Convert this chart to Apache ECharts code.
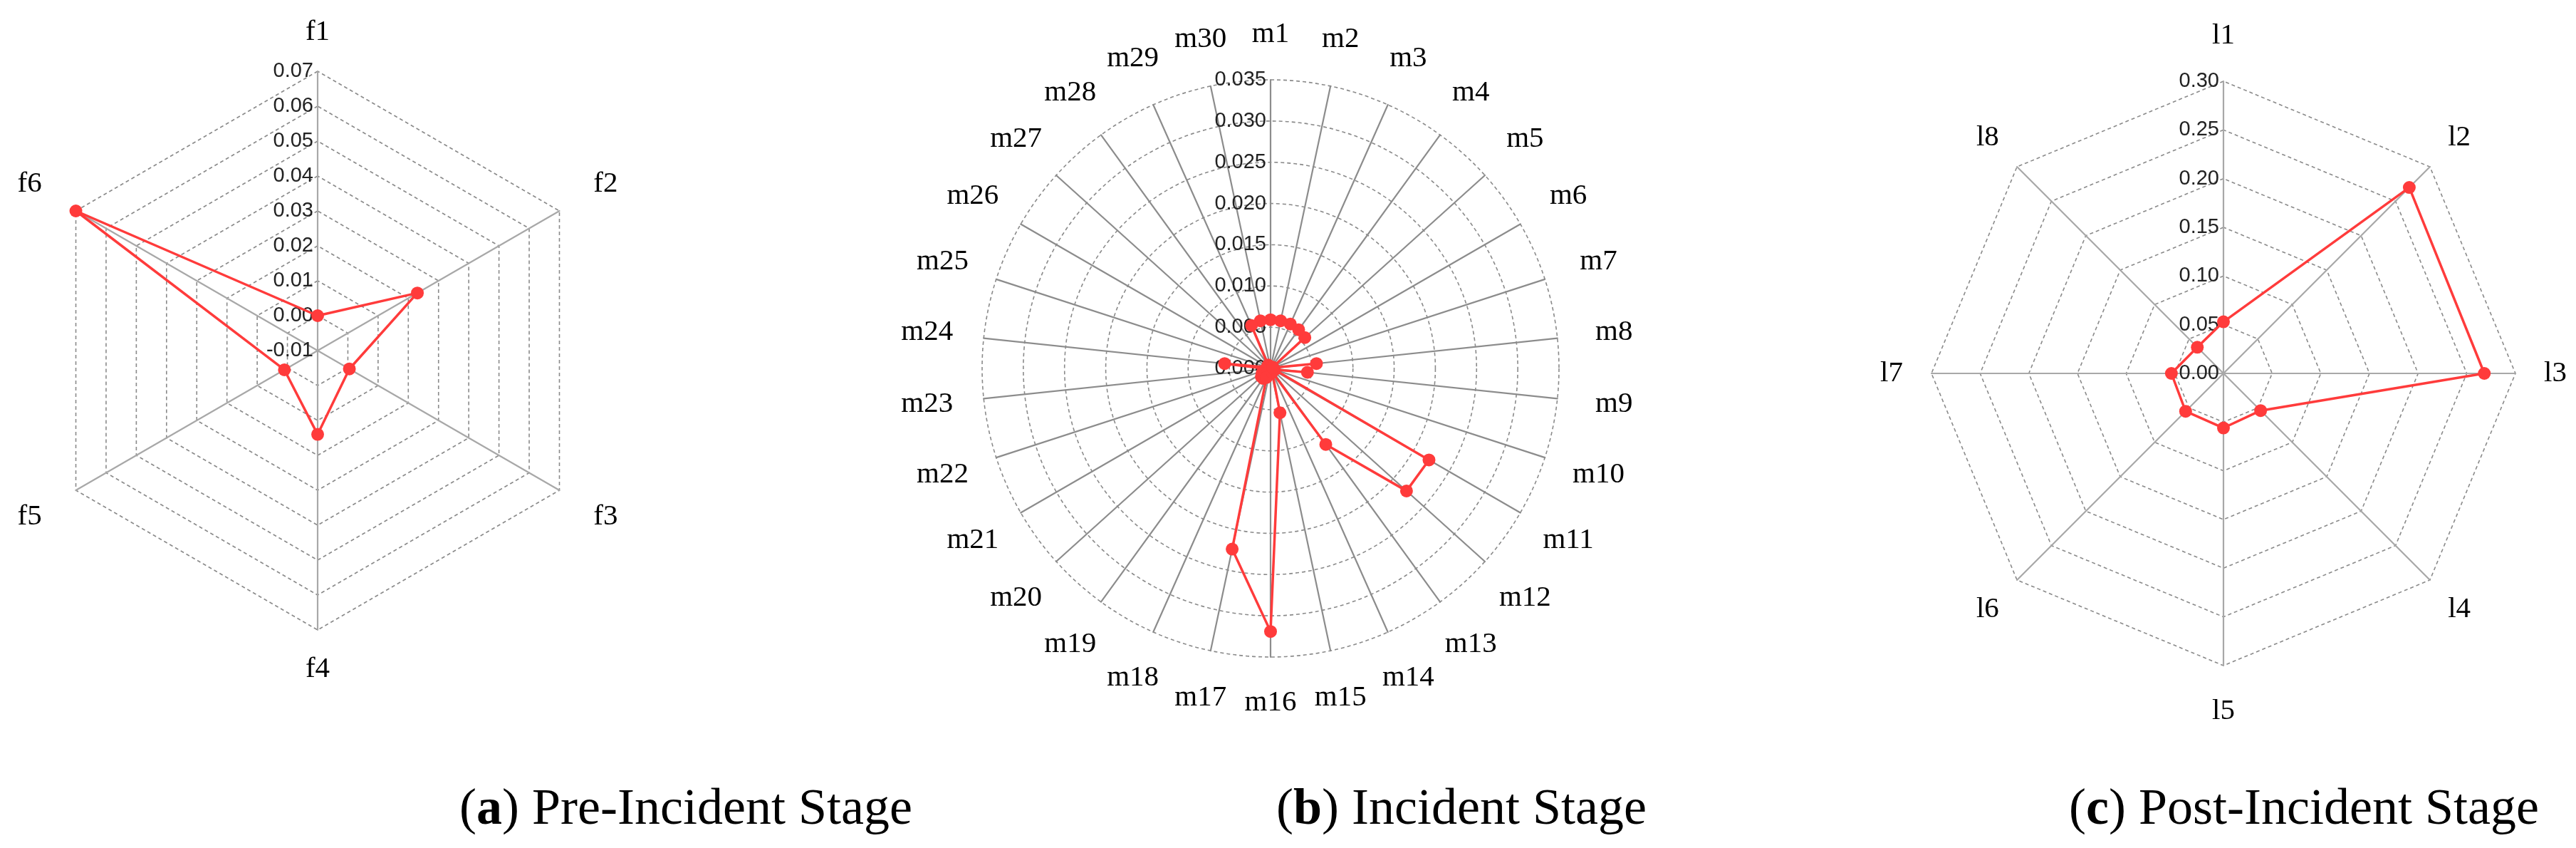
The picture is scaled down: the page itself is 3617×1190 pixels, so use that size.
<!DOCTYPE html>
<html><head><meta charset="utf-8">
<script src="https://cdn.jsdelivr.net/npm/echarts@6/dist/echarts.min.js"></script>
<style>html,body{margin:0;padding:0;background:#fff}#c{width:3617px;height:1190px}</style>
</head><body><div id="c"></div>
<script>
// ---- data ----
const preNames = ['f1','f2','f3','f4','f5','f6'];
const preValues = [0.000, 0.023, 0.0005, 0.014, 0.001, 0.070];
const preRange = [-0.01, 0.07];   // ticks every 0.01
const preSplits = 8;

const incNames = ['m1','m2','m3','m4','m5','m6','m7','m8','m9','m10','m11','m12','m13','m14','m15',
                  'm16','m17','m18','m19','m20','m21','m22','m23','m24','m25','m26','m27','m28','m29','m30'];
const incValues = [0.0059,0.0059,0.0059,0.0058,0.0056,0.0003,0.0003,0.0056,0.0045,0.0005,0.0222,0.0222,0.0114,0.0005,0.0055,
                   0.0319,0.0224,0.0012,0.0015,0.0015,0.0012,0.0008,0.0005,0.0056,0.0004,0.0004,0.0004,0.0005,0.0057,0.0059];
const incRange = [0, 0.035];      // ticks every 0.005
const incSplits = 7;

const postNames = ['l1','l2','l3','l4','l5','l6','l7','l8'];
const postValues = [0.053, 0.270, 0.268, 0.054, 0.056, 0.055, 0.0535, 0.038];
const postRange = [0, 0.30];      // ticks every 0.05
const postSplits = 6;

const captions = [
  {label:'a', text:' Pre-Incident Stage'},
  {label:'b', text:' Incident Stage'},
  {label:'c', text:' Post-Incident Stage'}
];

// ---- helpers ----
const RED = '#ff3b3b';
// ECharts lays radar indicators counter-clockwise; reorder so they run clockwise from the top
function cwOrder(n){ const o=[0]; for(let i=n-1;i>=1;i--) o.push(i); return o; }

function makeRadar(names, range, splits, center, radius, decimals, shape, axisColor, gapV, gapH){
  const n = names.length;
  const order = cwOrder(n);
  return {
    center: center, radius: radius, startAngle: 90, shape: shape,
    splitNumber: splits,
    axisNameGap: gapV,
    axisName: {color:'#000', fontFamily:'"Liberation Serif", "Times New Roman", serif', fontSize: 41,
               align:'center', verticalAlign:'middle'},
    axisLine: {lineStyle:{color: axisColor, width: 2.2}},
    splitLine: {lineStyle:{color:'#8a8a8a', width:1.6, type:[5,4]}},
    splitArea: {show:false},
    axisTick: {show:false},
    axisLabel: {show:false},
    indicator: order.map((k,i)=>({
      name: names[k], min: range[0], max: range[1],
      nameGap: gapV + (gapH - gapV) * Math.abs(Math.sin(2 * Math.PI * k / n)),
      axisLabel: i===0 ? {show:true, color:'#222', fontSize:29, margin:6,
        fontFamily:'"Liberation Sans", Arial, sans-serif',
        formatter: v => Number(v).toFixed(decimals)} : {show:false}
    }))
  };
}
function makeSeries(values, idx){
  const order = cwOrder(values.length);
  return {
    type:'radar', radarIndex: idx, symbol:'circle', symbolSize: 18,
    lineStyle:{color:RED, width:3.5}, itemStyle:{color:RED},
    data:[{value: order.map(k=>values[k])}]
  };
}

const chart = echarts.init(document.getElementById('c'), null, {renderer:'canvas'});
const capPos = [[963, 1137],[2052, 1137],[3235, 1137]];
chart.setOption({
  backgroundColor:'#fff',
  animation:false,
  radar:[
    makeRadar(preNames, preRange, preSplits, [446, 492], 392, 2, 'polygon', '#a8a8a8', 55, 78),
    makeRadar(incNames, incRange, incSplits, [1784, 517], 405, 3, 'circle', '#8c8c8c', 64, 80),
    makeRadar(postNames, postRange, postSplits, [3122, 524], 410, 2, 'polygon', '#a8a8a8', 64, 56)
  ],
  series:[ makeSeries(preValues,0), makeSeries(incValues,1), makeSeries(postValues,2) ],
  graphic: captions.map((c,i)=>({
    type:'text', x: capPos[i][0], y: capPos[i][1],
    style:{
      text:'{p|(}{b|'+c.label+'}{p|)'+c.text+'}',
      align:'center', verticalAlign:'middle',
      rich:{
        p:{fontFamily:'"Liberation Serif", serif', fontSize:72, fill:'#000', color:'#000'},
        b:{fontFamily:'"Liberation Serif", serif', fontSize:72, fontWeight:'bold', fill:'#000', color:'#000'}
      }
    }
  }))
});
</script></body></html>
